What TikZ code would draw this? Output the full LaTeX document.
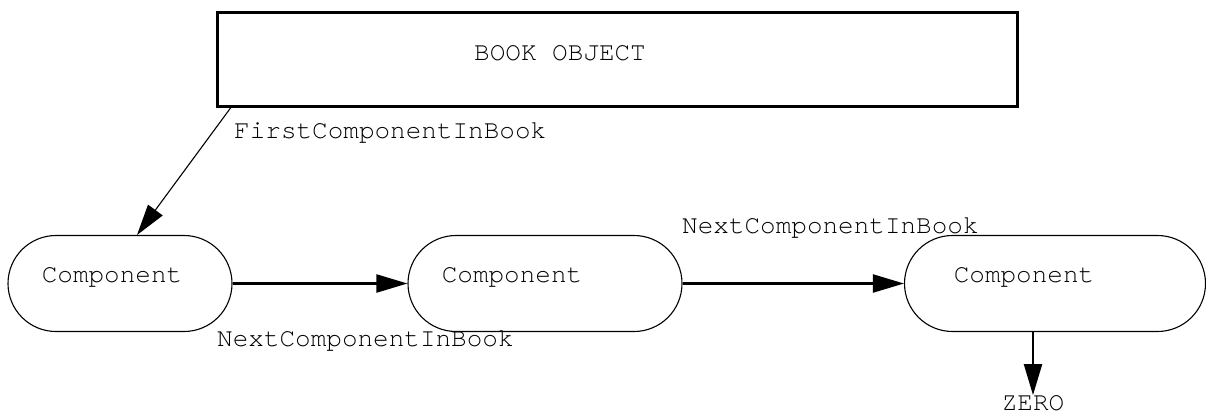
\documentclass[tikz,border=0pt]{standalone}
\usepackage{fontspec}
\setmonofont{texgyrecursor}[Extension=.otf, UprightFont=*-regular]
\usetikzlibrary{arrows.meta}
\begin{document}
\begin{tikzpicture}[x=1pt,y=-1pt,
  every node/.style={font=\ttfamily\fontsize{26}{28}\selectfont, inner sep=0pt},
  bookbox/.style={draw, line width=3pt, minimum width=800pt, minimum height=94pt},
  comp/.style={draw, line width=1.1pt, minimum height=96pt, rounded corners=48pt},
  lbl/.style={anchor=west},
  conn/.style={-{Triangle[length=31pt,width=18pt]}},
]
\useasboundingbox (0,0) rectangle (1206,415);
\node[bookbox] (book) at (617,59) {};
\node (booktext) at (560,53) {BOOK OBJECT};
\node[comp, minimum width=224pt] (c1) at (120,283.5) {};
\node (t1) at (112,277) {Component};
\node[comp, minimum width=274pt] (c2) at (545,283.5) {};
\node (t2) at (512,277) {Component};
\node[comp, minimum width=301pt] (c3) at (1055,283.5) {};
\node (t3) at (1024,277) {Component};
\node (zero) at (1033,403) {ZERO};
\coordinate (bstart) at (232,106);
\coordinate (c1top) at (137,235);
\draw[conn, line width=1.1pt] (bstart) -- (c1top);
\draw[conn, line width=2.2pt] (c1.east) -- (c2.west);
\draw[conn, line width=2.2pt] (c2.east) -- (c3.west);
\draw[conn, line width=2.2pt] (c3.south -| zero) -- (zero.north);
\node[lbl] (l1) at (234,133) {FirstComponentInBook};
\node[lbl] (l2) at (682,228) {NextComponentInBook};
\node[lbl] (l3) at (217,341) {NextComponentInBook};
\end{tikzpicture}
\end{document}
